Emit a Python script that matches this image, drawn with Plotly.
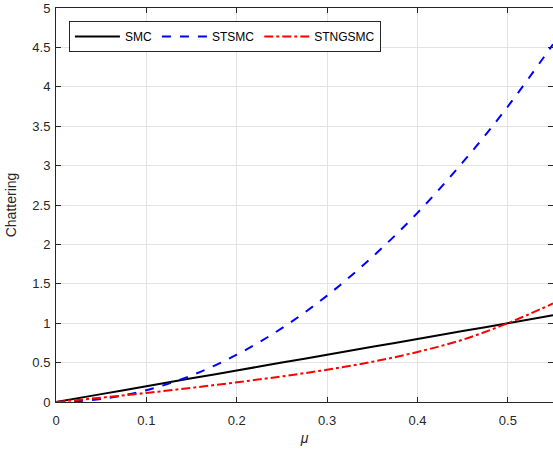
import plotly.graph_objects as go

mu = [0, 0.05, 0.1, 0.15, 0.2, 0.25, 0.3, 0.35, 0.4, 0.45, 0.5, 0.55]
smc = [0, 0.1, 0.2, 0.3, 0.4, 0.5, 0.6, 0.7, 0.8, 0.9, 1.0, 1.1]
stsmc = [0, 0.0375, 0.15, 0.3375, 0.6, 0.9375, 1.35, 1.84, 2.4, 3.04, 3.75, 4.54]
stngsmc = [0, 0.055, 0.115, 0.18, 0.25, 0.325, 0.41, 0.51, 0.635, 0.79, 1.0, 1.25]

xticks = [0, 0.1, 0.2, 0.3, 0.4, 0.5]
yticks = [0, 0.5, 1, 1.5, 2, 2.5, 3, 3.5, 4, 4.5, 5]
ytick_text = ["0", "0.5", "1", "1.5", "2", "2.5", "3", "3.5", "4", "4.5", "5"]

fig = go.Figure()
fig.add_trace(go.Scatter(x=mu, y=smc, mode="lines", name="SMC",
                         line=dict(color="black", width=2, shape="spline")))
fig.add_trace(go.Scatter(x=mu, y=stsmc, mode="lines", name="STSMC",
                         line=dict(color="blue", width=2, dash="dash", shape="spline")))
fig.add_trace(go.Scatter(x=mu, y=stngsmc, mode="lines", name="STNGSMC",
                         line=dict(color="red", width=2, dash="dashdot", shape="spline")))

axis_common = dict(
    showgrid=True, gridcolor="#e3e3e3", gridwidth=1,
    showline=True, linecolor="#262626", linewidth=1, mirror="ticks",
    ticks="inside", ticklen=5, tickcolor="#262626",
    tickfont=dict(family="Liberation Sans, Arial", size=13, color="#262626"),
    zeroline=False,
)

fig.update_layout(
    width=553, height=454,
    margin=dict(l=56, r=0, t=8, b=52),
    plot_bgcolor="white", paper_bgcolor="white",
    font=dict(family="Liberation Sans, Arial", size=13, color="#262626"),
    xaxis=dict(range=[0, 0.55], tickvals=xticks, ticktext=[str(v) for v in xticks],
               ticklabelstandoff=6,
               title=dict(text="<i>μ</i>", font=dict(size=14), standoff=6), **axis_common),
    yaxis=dict(range=[0, 5], tickvals=yticks, ticktext=ytick_text,
               ticklabelstandoff=2,
               title=dict(text="Chattering", font=dict(size=14), standoff=12), **axis_common),
    legend=dict(orientation="h", x=0.026, y=0.967, xanchor="left", yanchor="top",
                bgcolor="white", bordercolor="#262626", borderwidth=1,
                font=dict(size=12, color="black"), itemwidth=45,
                tracegroupgap=0),
    showlegend=True,
)

fig.write_html("out.html")
